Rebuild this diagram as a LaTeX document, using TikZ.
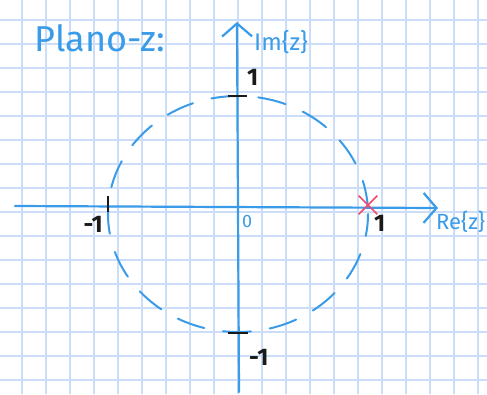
\documentclass[tikz,border=0pt]{standalone}
\usepackage{fontspec}
\setsansfont{Fira Sans}
\usetikzlibrary{arrows.meta,positioning,shapes.misc}
\definecolor{pen}{HTML}{3A9BE8}
\definecolor{gridblue}{HTML}{CCDDF8}
\definecolor{ink}{HTML}{1A1A1A}
\definecolor{polered}{HTML}{EE4B6E}
\tikzset{
  every node/.style={font=\sffamily},
  gridline/.style={draw=gridblue, line width=1.3pt},
  axis/.style={draw=pen, line width=2.2pt, line cap=round, -{Straight Barb[length=13pt,width=30pt]}},
  circ/.style={draw=pen, line width=2pt, line cap=round, dash pattern=on 28pt off 19pt, dash phase=6pt},
  tick/.style={draw=ink, line width=2pt},
  num/.style={font=\sffamily\bfseries\fontsize{24}{25}\selectfont, text=ink, inner sep=1pt},
  penlabel/.style={font=\sffamily\fontsize{24}{25}\selectfont, text=pen, inner sep=1pt},
  title/.style={font=\sffamily\fontsize{36}{38}\selectfont, text=pen, inner sep=0pt},
  pole/.style={cross out, draw=polered, line width=1.6pt, minimum size=17pt, inner sep=0pt},
}
\begin{document}
\begin{tikzpicture}[x=1pt,y=-1pt]
\useasboundingbox (0,0) rectangle (487,394);
\fill[white] (0,0) rectangle (487,394);
% squared paper
\foreach \gx in {22,46,...,478} \draw[gridline] (\gx,0) -- (\gx,394);
\foreach \gy in {20,44,...,380} \draw[gridline] (0,\gy) -- (487,\gy);
% axes
\coordinate (O) at (238,205);
\coordinate (xl) at (15,206);
\coordinate (xr) at (438,208);
\coordinate (yb) at (239,392);
\coordinate (yt) at (237,22);
\draw[axis] (xl) -- (xr);
\draw[axis] (yb) -- (yt);
% unit circle
\draw[circ] (238,214) ellipse [x radius=130, y radius=118];
% ticks
\coordinate (im1) at (238,96);
\coordinate (imm1) at (238,333);
\coordinate (rem1) at (108,205);
\draw[tick] (im1) ++(-10,0) -- ++(19,0);
\draw[tick] (imm1) ++(-10,0) -- ++(20,0);
\draw[tick] (rem1) ++(0,-9) -- ++(0,16);
\node[pole] (z1) at (368,205) {};
% labels
\node[title] (t) at (100,38) {Plano-z:};
\node[penlabel, anchor=west] (im) at (253,42) {Im\{z\}};
\node[penlabel, font=\sffamily\fontsize{22}{23}\selectfont, anchor=west] (re) at (435,222) {Re\{z\}};
\node[num, above right=9pt and 8pt of im1] (l1) {1};
\node[num, below right=15pt and 10pt of imm1] (lm1) {-1};
\node[num, below left=10pt and 4pt of rem1] (lrm1) {-1};
\node[num, below right=9pt and 5pt of z1.center] (lr1) {1};
\node[penlabel, font=\sffamily\fontsize{18}{18}\selectfont, below right=9pt and 3pt of O] (o) {0};
\end{tikzpicture}
\end{document}
